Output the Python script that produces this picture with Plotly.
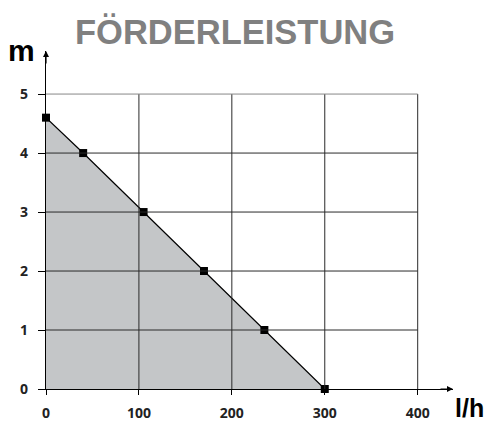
import plotly.graph_objects as go

# Data
flow_lh = [0, 40, 105, 170, 235, 300]
head_m = [4.6, 4.0, 3.0, 2.0, 1.0, 0.0]
x_ticks = [0, 100, 200, 300, 400]
y_ticks = [0, 1, 2, 3, 4, 5]
title_text = "FÖRDERLEISTUNG"
x_unit = "l/h"
y_unit = "m"

X_MAX = 438
Y_MAX = 5.73

W, H = 490, 425
PL, PR, PT, PB = 46, 453, 51, 389  # plot area in window pixels


def px(xw):
    return (xw - PL) / (PR - PL)


def py(yw):
    return (PB - yw) / (PB - PT)


fig = go.Figure()

fig.add_trace(go.Scatter(
    x=flow_lh, y=head_m, mode="lines+markers",
    fill="tozeroy", fillcolor="#c4c6c8",
    line=dict(color="black", width=1.2),
    marker=dict(symbol="square", size=8, color="black"),
    hoverinfo="skip", showlegend=False, cliponaxis=False,
))

shapes = []
for xv in x_ticks[1:]:
    shapes.append(dict(type="line", xref="x", yref="y", x0=xv, x1=xv,
                       y0=y_ticks[0], y1=y_ticks[-1],
                       line=dict(color="#2a2a2a", width=1), layer="above"))
for yv in y_ticks[1:]:
    shapes.append(dict(type="line", xref="x", yref="y", x0=x_ticks[0], x1=x_ticks[-1],
                       y0=yv, y1=yv,
                       line=dict(color="#2a2a2a" if yv < y_ticks[-1] else "#888888", width=1),
                       layer="above"))
fig.update_layout(shapes=shapes)

tick_font = dict(family="Open Sans", size=14, color="#222222", weight="bold")

fig.update_xaxes(
    range=[0, X_MAX], tickvals=x_ticks, ticktext=[str(v) for v in x_ticks],
    showgrid=False, zeroline=False, showline=True, linecolor="black", linewidth=1.2,
    ticks="outside", ticklen=5, tickcolor="black", tickwidth=1,
    tickfont=tick_font, ticklabelstandoff=6,
)
fig.update_yaxes(
    range=[0, Y_MAX], tickvals=y_ticks, ticktext=[str(v) for v in y_ticks],
    showgrid=False, zeroline=False, showline=True, linecolor="black", linewidth=1.2,
    ticks="outside", ticklen=7, tickcolor="black", tickwidth=1,
    tickfont=tick_font, ticklabelstandoff=7,
)

annotations = [
    dict(x=X_MAX, y=0, xref="x", yref="y", ax=-14, ay=0, text="", showarrow=True,
         arrowhead=2, arrowsize=1, arrowwidth=1.2, arrowcolor="black", standoff=0),
    dict(x=0, y=Y_MAX, xref="x", yref="y", ax=0, ay=14, text="", showarrow=True,
         arrowhead=2, arrowsize=1, arrowwidth=1.2, arrowcolor="black", standoff=0),
    dict(x=px(235), y=py(32), xref="paper", yref="paper", xanchor="center", yanchor="middle",
         text="<b>" + title_text + "</b>", showarrow=False,
         font=dict(family="Liberation Sans", size=34.5, color="#808080")),
    dict(x=px(6), y=py(50), xref="paper", yref="paper", xanchor="left", yanchor="middle",
         text="<b>" + y_unit + "</b>", showarrow=False,
         font=dict(family="Liberation Sans", size=30, color="black")),
    dict(x=px(453), y=py(424), xref="paper", yref="paper", xanchor="left", yanchor="bottom",
         text="<b>" + x_unit + "</b>", showarrow=False,
         font=dict(family="Liberation Sans", size=25, color="black")),
]
fig.update_layout(annotations=annotations)

fig.update_layout(
    width=W, height=H,
    margin=dict(l=PL, r=W - PR, t=PT, b=H - PB, autoexpand=False),
    paper_bgcolor="white", plot_bgcolor="white",
    showlegend=False,
)

fig.write_html(
    "out.html",
    config={"displayModeBar": False},
    post_script="document.body.style.margin='0';document.body.style.overflow='hidden';",
)
